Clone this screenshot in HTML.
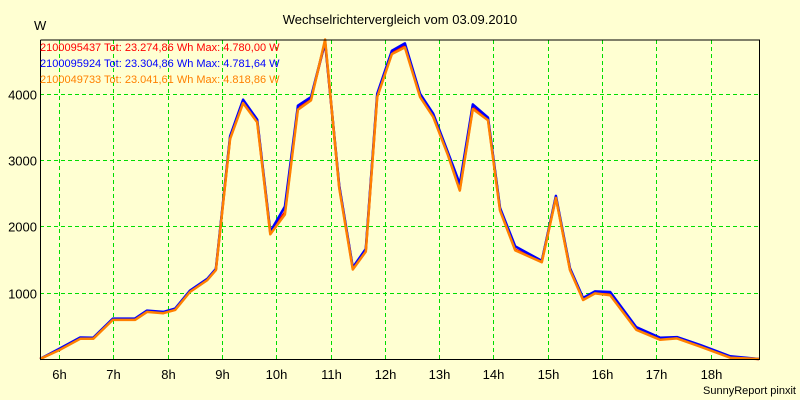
<!DOCTYPE html>
<html><head><meta charset="utf-8"><style>
html,body{margin:0;padding:0;background:#ffffd2;}
svg{display:block;font-family:"Liberation Sans",sans-serif;}
</style></head><body>
<svg id="chart" width="800" height="400">
<rect x="0" y="0" width="800" height="400" fill="#ffffd2"/>
<text x="400" y="24" font-size="13" text-anchor="middle" fill="#000">Wechselrichtervergleich vom 03.09.2010</text>
<text x="34" y="30" font-size="13" fill="#000">W</text>
<g id="grid"></g>
<g id="series"></g>
<g id="axes"></g>
<text x="40" y="51" font-size="11" fill="#ff0000">2100095437 Tot: 23.274,86 Wh Max: 4.780,00 W</text>
<text x="40" y="67" font-size="11" fill="#0000ff">2100095924 Tot: 23.304,86 Wh Max: 4.781,64 W</text>
<text x="40" y="83" font-size="11" fill="#ff8000">2100049733 Tot: 23.041,61 Wh Max: 4.818,86 W</text>
<text x="796" y="394" font-size="11" text-anchor="end" fill="#000">SunnyReport pinxit</text>
</svg>
<script>
const times=[5.65,6.02,6.39,6.63,6.99,7.40,7.62,7.92,8.14,8.41,8.73,8.89,9.15,9.39,9.65,9.89,10.16,10.40,10.64,10.90,11.16,11.41,11.65,11.86,12.13,12.37,12.65,12.89,13.16,13.38,13.62,13.90,14.12,14.40,14.89,15.15,15.41,15.65,15.87,16.15,16.63,17.07,17.38,17.81,18.36,18.89];
const redValues=[0,150,315,315,600,600,720,700,750,1020,1200,1350,3340,3880,3590,1900,2210,3790,3925,4780,2600,1370,1640,3970,4620,4720,3970,3670,3100,2560,3790,3620,2260,1650,1470,2440,1350,900,1000,970,450,300,320,195,30,0];
const blueValues=[0,160,325,320,610,610,730,710,760,1030,1210,1360,3360,3910,3610,1920,2300,3820,3950,4782,2620,1380,1660,4000,4650,4760,4000,3700,3120,2640,3840,3640,2280,1700,1480,2460,1370,920,1020,1010,480,320,330,210,40,0];
const orangeValues=[0,140,305,305,590,590,710,690,740,1010,1190,1340,3320,3860,3570,1880,2180,3760,3900,4819,2580,1350,1620,3950,4600,4700,3950,3650,3080,2540,3770,3600,2240,1640,1460,2430,1340,890,990,960,440,290,310,185,20,0];
const yTicks=[1000,2000,3000,4000];
const xTicks=[6,7,8,9,10,11,12,13,14,15,16,17,18];
const NS="http://www.w3.org/2000/svg";
const L=40,R=759,T=40,B=359;
const t0=5.65,t1=18.89,vMax=4811;
function xs(t){return L+(t-t0)/(t1-t0)*(R-L);}
function ys(v){return B-v/vMax*(B-T);}
const grid=document.getElementById('grid'),axes=document.getElementById('axes'),ser=document.getElementById('series');
function mk(tag,attrs,parent){const e=document.createElementNS(NS,tag);for(const k in attrs)e.setAttribute(k,attrs[k]);parent.appendChild(e);return e;}
yTicks.forEach(v=>{
  const y=Math.round(ys(v))+0.5;
  const l=mk('line',{x1:L,x2:R,y1:y,y2:y,stroke:'#00dd00','stroke-dasharray':'4,3'},grid);
  
  
  const t=mk('text',{x:L-3,y:y+5,'font-size':13,'text-anchor':'end'},axes);
  t.textContent=v;
  
  
});
xTicks.forEach(h=>{
  const x=Math.round(xs(h))+0.5;
  const l=mk('line',{x1:x,x2:x,y1:T,y2:B,stroke:'#00dd00','stroke-dasharray':'4,3'},grid);
  
  
  const t=mk('text',{x:x,y:B+20,'font-size':13,'text-anchor':'middle'},axes);
  t.textContent=h+'h';
  
  
});
const frame=mk('path',{d:`M${L+0.5},${T} V${B+0.5} H${R+0.5} V${T} H${L+0.5}`,fill:'none',stroke:'#000','stroke-width':1},axes);


function line(vals,color,w,name){
  const d=vals.map((v,i)=>(i?'L':'M')+xs(times[i]).toFixed(1)+','+ys(v).toFixed(1)).join(' ');
  const p=mk('path',{d:d,fill:'none',stroke:color,'stroke-width':w,'stroke-linejoin':'round'},ser);
  
  
}
line(redValues,'#ff0000',2.5,'series-red-line');
line(blueValues,'#0000ff',2.5,'series-blue-line');
line(orangeValues,'#ff8000',2.5,'series-orange-line');
</script>
</body></html>
